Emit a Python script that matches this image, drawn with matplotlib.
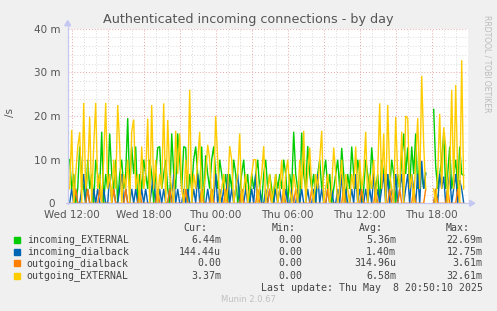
import numpy as np
import matplotlib
matplotlib.use("Agg")
import matplotlib.pyplot as plt
from matplotlib.patches import Rectangle
from matplotlib.transforms import ScaledTranslation

nan = float("nan")

# values in milli-connections per second, one sample every 10 minutes, from Wed 11:50
incoming_external = [
    10, 3.3, 6.7, 0, 3.3, 13, 6.7, 3.3, 0, 10,
    3.3, 6.7, 0, 10, 6.7, 3.3, 16.4, 0, 6.7, 3.3,
    16, 6.7, 3.3, 10, 0, 6.7, 10, 3.3, 6.7, 19.5,
    3.3, 13, 6.7, 13, 0, 6.7, 3.3, 10, 6.7, 3.3,
    10, 6.7, 0, 6.7, 12.7, 13, 3.3, 6.7, 10, 3.3,
    0, 16, 6.7, 3.3, 16, 10, 3.3, 13, 12.7, 0,
    6.7, 3.3, 10, 13, 6.7, 3.3, 13, 0, 11, 6.7,
    3.3, 10, 13, 6.7, 3.3, 10, 6.7, 3.3, 6.7, 0,
    6.7, 3.3, 10, 6.7, 0, 3.3, 6.7, 10, 3.3, 6.7,
    0, 6.7, 3.3, 6.7, 10, 3.3, 0, 6.7, 10, 3.3,
    6.7, 3.3, 0, 6.7, 3.3, 6.7, 3.3, 10, 6.7, 0,
    6.7, 3.3, 16.4, 6.7, 3.3, 0, 16.2, 6.7, 3.3, 13.1,
    6.7, 3.3, 6.7, 0, 6.7, 10, 3.3, 6.7, 10, 3.3,
    6.7, 0, 3.3, 6.7, 10, 3.3, 12.7, 6.7, 0, 6.7,
    3.3, 13, 6.7, 3.3, 10, 6.7, 0, 3.3, 10, 6.7,
    3.3, 12.8, 6.7, 3.3, 6.7, 0, 10, 6.7, 3.3, 6.7,
    3.3, 10, 6.7, 0, 6.7, 3.3, 10, 16, 6.7, 12.8,
    3.3, 13, 6.7, 16, 3.3, 10, 6.7, 3.3, 7, nan,
    nan, nan, 21.5, 8.4, 3.3, 6.7, 10, 16, 3.3, 6.7,
    13, 3.3, 6.7, 10, 3.3, 13, 6.7, 6.4,
]

incoming_dialback = [
    0, 3.3, 0, 3.3, 0, 0, 3.3, 6.7, 0, 3.3,
    0, 0, 3.3, 0, 3.3, 0, 0, 3.3, 0, 0,
    6.7, 0, 3.3, 0, 0, 3.3, 6.7, 0, 3.3, 0,
    0, 3.3, 0, 3.3, 0, 0, 3.3, 0, 3.3, 0,
    0, 3.3, 6.7, 0, 0, 3.3, 0, 3.3, 0, 0,
    3.3, 0, 6.7, 0, 3.3, 0, 0, 3.3, 0, 3.3,
    0, 0, 3.3, 0, 6.7, 0, 3.3, 0, 0, 3.3,
    0, 3.3, 0, 6.7, 0, 3.3, 0, 3.3, 0, 6.7,
    0, 3.3, 0, 3.3, 6.7, 0, 3.3, 0, 3.3, 0,
    0, 3.3, 0, 6.7, 0, 3.3, 0, 0, 3.3, 0,
    3.3, 0, 0, 3.3, 0, 3.3, 0, 0, 3.3, 0,
    0, 3.3, 0, 0, 3.3, 0, 3.3, 0, 0, 3.3,
    0, 0, 3.3, 0, 6.7, 0, 3.3, 0, 0, 3.3,
    0, 3.3, 0, 0, 3.3, 0, 6.7, 0, 3.3, 0,
    0, 3.3, 0, 6.7, 0, 3.3, 0, 0, 3.3, 0,
    3.3, 0, 6.7, 0, 3.3, 0, 3.3, 6.7, 0, 6.7,
    0, 3.3, 0, 6.7, 0, 3.3, 6.7, 0, 3.3, 6.7,
    0, 6.7, 3.3, 0, 6.7, 0, 9.7, 3.3, 6.7, nan,
    nan, nan, 0, 3.3, 0, 6.7, 3.3, 6.1, 0, 3.3,
    6.7, 0, 3.3, 6.7, 0, 5.3, 3.3, 0.1,
]

outgoing_dialback = [
    0, 0, 0, 3.3, 0, 0, 0, 0, 0, 3.3,
    0, 0, 0, 0, 0, 3.3, 0, 0, 0, 0,
    0, 0, 3.3, 0, 0, 0, 0, 0, 3.3, 0,
    0, 0, 0, 0, 0, 3.3, 0, 0, 0, 0,
    0, 0, 0, 0, 3.3, 0, 0, 0, 0, 0,
    3.3, 0, 0, 0, 0, 0, 0, 0, 3.3, 0,
    0, 0, 0, 0, 0, 0, 3.3, 0, 0, 0,
    0, 3.3, 0, 0, 0, 0, 0, 0, 3.3, 0,
    0, 0, 0, 0, 0, 0, 3.3, 0, 0, 0,
    0, 0, 0, 0, 3.3, 0, 0, 0, 0, 0,
    3.3, 0, 0, 0, 0, 0, 0, 3.3, 0, 0,
    0, 0, 0, 3.3, 0, 0, 0, 0, 0, 0,
    0, 3.3, 0, 0, 0, 0, 0, 0, 0, 3.3,
    0, 0, 0, 0, 0, 0, 0, 3.6, 0, 0,
    0, 0, 0, 0, 0, 0, 3.3, 0, 0, 0,
    0, 0, 0, 3.3, 0, 0, 0, 0, 0, 0,
    3.3, 0, 0, 0, 0, 3.3, 0, 0, 0, 0,
    0, 0, 3.3, 0, 0, 0, 0, 0, 3.3, nan,
    nan, nan, 0, 3.3, 0, 0, 0, 0, 0, 3.3,
    0, 0, 0, 0, 3.3, 0, 0, 0,
]

outgoing_external = [
    3.3, 16.8, 0, 6.7, 12.8, 16.3, 0, 23, 3.3, 6.7,
    19.8, 0, 13, 23, 3.3, 6.7, 0, 10, 23, 3.3,
    6.7, 0, 10, 3.3, 22.5, 13, 0, 6.7, 3.3, 10,
    0, 16.4, 19.2, 3.3, 6.7, 0, 13, 3.3, 6.7, 19.4,
    0, 22.5, 3.3, 10, 0, 6.7, 3.3, 22.9, 0, 19.1,
    6.7, 3.3, 0, 16.6, 6.7, 16, 3.3, 0, 10, 3.3,
    26, 0, 6.7, 3.3, 10, 16.4, 0, 3.3, 6.7, 13.4,
    10, 0, 3.3, 20, 10, 0, 3.3, 6.7, 0, 3.3,
    13.1, 10, 0, 3.3, 6.7, 16, 0, 3.3, 6.7, 0,
    3.3, 6.7, 10, 10, 0, 3.3, 6.7, 13.1, 0, 3.3,
    6.7, 0, 3.3, 6.7, 0, 3.3, 10, 0, 6.7, 10,
    3.3, 0, 6.7, 3.3, 0, 10, 3.3, 16.6, 0, 6.7,
    12.8, 3.3, 0, 6.7, 3.3, 10, 16.6, 0, 3.3, 6.7,
    0, 3.3, 12.8, 6.7, 0, 3.3, 10, 0, 6.7, 3.3,
    0, 6.7, 3.3, 13, 0, 10, 3.3, 6.7, 16.4, 0,
    6.7, 3.3, 10, 0, 6.7, 22.9, 3.3, 16, 0, 22.5,
    6.7, 3.3, 0, 19.8, 6.7, 3.3, 16.4, 0, 20, 19.5,
    3.3, 6.7, 0, 10, 19.5, 3.3, 29.2, 13.3, 3.3, nan,
    nan, nan, 3.3, 0, 6.7, 20.5, 3.3, 17.4, 13, 0,
    6.7, 26, 3.3, 27.1, 6.7, 0, 32.8, 3.3,
]

series_names = ["incoming_EXTERNAL", "incoming_dialback", "outgoing_dialback", "outgoing_EXTERNAL"]
series_colors = ["#00CC00", "#0066B3", "#FF8000", "#FFCC00"]
cur_vals = ["6.44m", "144.44u", "0.00", "3.37m"]
min_vals = ["0.00", "0.00", "0.00", "0.00"]
avg_vals = ["5.36m", "1.40m", "314.96u", "6.58m"]
max_vals = ["22.69m", "12.75m", "3.61m", "32.61m"]
x_tick_labels = ["Wed 12:00", "Wed 18:00", "Thu 00:00", "Thu 06:00", "Thu 12:00", "Thu 18:00"]
y_tick_labels = ["0", "10 m", "20 m", "30 m", "40 m"]

W, H = 497, 311
fig = plt.figure(figsize=(W / 100, H / 100), dpi=100, facecolor="#F0F0F0")

L, R, T, B = 67.7, 467.7, 28.7, 203.3
ax = fig.add_axes([L / W, 1 - B / H, (R - L) / W, (B - T) / H])
ax.set_facecolor("white")
for s in ax.spines.values():
    s.set_visible(False)

# hours since Wed 12:00
t = np.arange(len(outgoing_external)) / 6.0 - 1 / 6.0
x0, x1 = -1 / 3.0, 33.0
ax.set_xlim(x0, x1)
ax.set_ylim(0, 40)

dot = (0, (1, 2))
for h in np.arange(0, 34, 1):
    if h % 3 != 0:
        ax.axvline(h, color="#DADADA", lw=0.7, ls=dot, zorder=1)
for v in np.arange(2, 41, 2):
    if v % 10 != 0:
        ax.axhline(v, color="#DADADA", lw=0.7, ls=dot, zorder=1)
for h in np.arange(0, 34, 3):
    ax.axvline(h, color="#E8A8A8", lw=0.7, ls=dot, zorder=1)
for v in [10, 20, 30, 40]:
    ax.axhline(v, color="#E8A8A8", lw=0.7, ls=dot, zorder=1)

for vals, col in zip([incoming_external, incoming_dialback, outgoing_dialback, outgoing_external], series_colors):
    ax.plot(t, vals, color=col, lw=1.0, zorder=3, solid_joinstyle="miter")

ax.set_xticks(np.arange(0, 31, 6))
ax.set_xticklabels(x_tick_labels)
ax.set_yticks([0, 10, 20, 30, 40])
ax.set_yticklabels(y_tick_labels)
ax.tick_params(length=0, labelsize=7.5, colors="#555555", pad=5)
ax.tick_params(axis="x", pad=4.5)
zero_lbl = ax.get_yticklabels()[0]
zero_lbl.set_transform(zero_lbl.get_transform() + ScaledTranslation(-6 / 100, 0, fig.dpi_scale_trans))

# axes with arrows
axis_col = "#C4C8F0"
fig.add_artist(plt.Line2D([L / W, L / W], [1 - (B + 1) / H, 1 - (T - 6) / H], color=axis_col, lw=0.9))
fig.add_artist(plt.Line2D([(L - 2) / W, (R + 4) / W], [1 - B / H, 1 - B / H], color=axis_col, lw=0.9))
fig.patches.append(plt.Polygon([[(L - 3) / W, 1 - (T - 3) / H], [(L + 3) / W, 1 - (T - 3) / H], [L / W, 1 - (T - 8) / H]],
                               closed=True, color=axis_col, transform=fig.transFigure, figure=fig))
fig.patches.append(plt.Polygon([[(R + 2) / W, 1 - (B - 3) / H], [(R + 2) / W, 1 - (B + 3) / H], [(R + 7) / W, 1 - B / H]],
                               closed=True, color=axis_col, transform=fig.transFigure, figure=fig))

fig.text(248.5 / W, 1 - 19.5 / H, "Authenticated incoming connections - by day", ha="center", va="center",
         fontsize=9.2, color="#555555")
fig.text(10 / W, 1 - 113 / H, "/s", rotation=90, ha="center", va="center", fontsize=7.5, color="#555555")
fig.text(487 / W, 1 - 15 / H, "RRDTOOL / TOBI OETIKER", rotation=270, ha="center", va="top",
         fontsize=5.5, color="#BBBBBB")

mono = "DejaVu Sans Mono"
fs = 7.1
tc = "#444444"
hy = 227.7
for label, xr in zip(["Cur:", "Min:", "Avg:", "Max:"], [207.7, 296, 383, 470]):
    fig.text(xr / W, 1 - hy / H, label, ha="right", va="center", family=mono, fontsize=fs, color=tc)
rows_y = [240, 251.7, 263.3, 275.7]
for name, col, c, mn, av, mx, ry in zip(series_names, series_colors, cur_vals, min_vals, avg_vals, max_vals, rows_y):
    fig.patches.append(Rectangle((14 / W, 1 - (ry + 3) / H), 6 / W, 6 / H, color=col,
                                 transform=fig.transFigure, figure=fig))
    fig.text(26.7 / W, 1 - ry / H, name, ha="left", va="center", family=mono, fontsize=fs, color=tc)
    for val, xr in zip([c, mn, av, mx], [221, 302.7, 396, 482.7]):
        fig.text(xr / W, 1 - ry / H, val, ha="right", va="center", family=mono, fontsize=fs, color=tc)
fig.text(482.7 / W, 1 - 287.7 / H, "Last update: Thu May  8 20:50:10 2025", ha="right", va="center",
         family=mono, fontsize=fs, color=tc)
fig.text(248 / W, 1 - 300 / H, "Munin 2.0.67", ha="center", va="center", fontsize=6, color="#C0C0C0")

fig.savefig("out.png", dpi=100, facecolor=fig.get_facecolor())
